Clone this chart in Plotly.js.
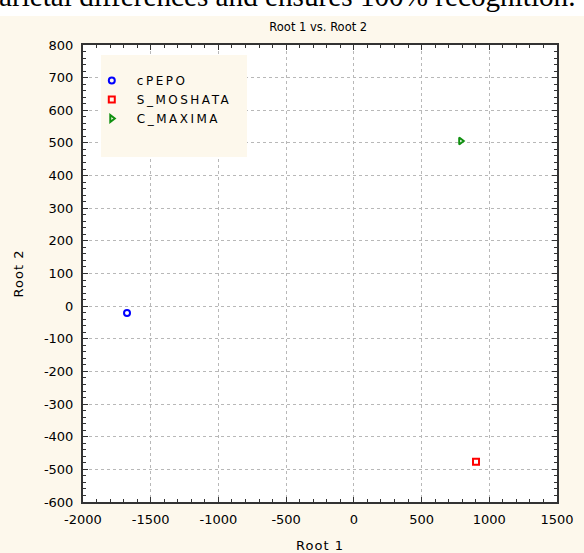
<!DOCTYPE html>
<html>
<head>
<meta charset="utf-8">
<script src="https://cdn.plot.ly/plotly-3.0.1.min.js"></script>
<style>
  html, body { margin:0; padding:0; background:#ffffff; width:584px; height:553px; overflow:hidden; }
  #strip { position:absolute; left:0; top:0; width:584px; height:16px; overflow:hidden; background:#ffffff; }
  #strip span { position:absolute; left:-1px; top:-20px; font-family:"Liberation Serif","Times New Roman",serif; font-size:29.2px; white-space:nowrap; color:#000; }
  #chart { position:absolute; left:0; top:16px; width:584px; height:537px; }
  #chart text.legendtext { letter-spacing: 2.5px; }
  #chart .legend .scrollbox { clip-path: none !important; }
  #chart text.xtitle, #chart text.ytitle { letter-spacing: 1px; }
</style>
</head>
<body>
<div id="strip"><span>arietal differences and ensures 100% recognition.</span></div>
<div id="chart"></div>
<script>
const groups = ["cPEPO", "S_MOSHATA", "C_MAXIMA"];
const root1 = [-1675, 902, 789];
const root2 = [-21, -477, 506];
const colors = ["#0000ff", "#ff0000", "#109010"];
const symbols = ["circle-open", "square-open", "triangle-right-open"];
const xTicks = [-2000, -1500, -1000, -500, 0, 500, 1000, 1500];
const yTicks = [-600, -500, -400, -300, -200, -100, 0, 100, 200, 300, 400, 500, 600, 700, 800];

const cream = "#fdf8ec";
const fam = "DejaVu Sans, Verdana, sans-serif";
const traces = groups.map((g, i) => ({
  type: "scatter", mode: "markers", name: g,
  x: [root1[i]], y: [root2[i]],
  marker: { color: colors[i], symbol: symbols[i], size: 6, line: { width: 2, color: colors[i] } }
}));

const axisCommon = {
  showline: true, linecolor: "#333333", linewidth: 2, mirror: "ticks",
  ticks: "inside", ticklen: 5, tickcolor: "#333333", tickwidth: 1,
  showgrid: true, gridcolor: "#b8b8b8", griddash: "dot", gridwidth: 1,
  zeroline: false, tickmode: "array",
  tickfont: { family: fam, size: 13, color: "#000" }
};

const layout = {
  width: 584, height: 537,
  paper_bgcolor: cream, plot_bgcolor: "#ffffff",
  margin: { l: 83, r: 27, t: 29, b: 51 },
  font: { family: fam, size: 12, color: "#000" },
  title: { text: "Root 1 vs. Root 2", x: 0.545, xanchor: "center", y: 1 - 11/537, yanchor: "middle", yref: "container",
           font: { family: fam, size: 11.5, color: "#000" } },
  xaxis: Object.assign({}, axisCommon, {
    range: [-2000, 1500], tickvals: xTicks, ticktext: xTicks.map(String),
    ticklabelstandoff: 4,
    minor: { dtick: 100, ticks: "inside", ticklen: 3, tickcolor: "#333333", showgrid: false },
    title: { text: "Root 1", standoff: 16, font: { family: fam, size: 13 } }
  }),
  yaxis: Object.assign({}, axisCommon, {
    range: [-600, 800], tickvals: yTicks, ticktext: yTicks.map(String),
    ticklabelstandoff: 5,
    minor: { dtick: 20, ticks: "inside", ticklen: 3, tickcolor: "#333333", showgrid: false },
    title: { text: "Root 2", standoff: 17, font: { family: fam, size: 13 } }
  }),
  shapes: [{
    type: "rect", xref: "paper", yref: "paper",
    x0: 0.038, x1: 0.346, y0: 0.755, y1: 0.978,
    fillcolor: cream, line: { width: 0 }, layer: "above"
  }],
  showlegend: true,
  legend: {
    x: 0.008, y: 0.954, xanchor: "left", yanchor: "top",
    itemwidth: 40,
    bgcolor: "rgba(0,0,0,0)", borderwidth: 0,
    font: { family: fam, size: 12, color: "#000" }
  }
};

Plotly.newPlot("chart", traces, layout, { displayModeBar: false, staticPlot: true });
</script>
</body>
</html>
